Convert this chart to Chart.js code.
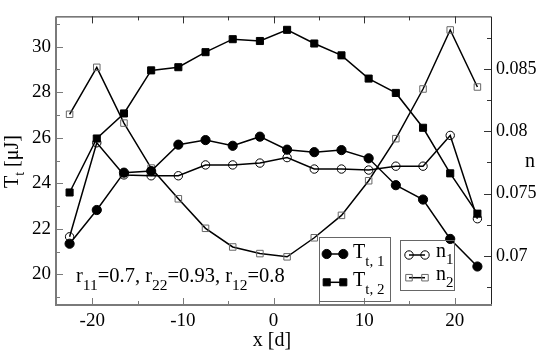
<!DOCTYPE html>
<html>
<head>
<meta charset="utf-8">
<script src="https://cdn.jsdelivr.net/npm/chart.js@4/dist/chart.umd.min.js"></script>
<style>
  html, body { margin: 0; padding: 0; background: #fff; }
  #wrap { width: 545px; height: 351px; }
</style>
</head>
<body>
<div id="wrap"><canvas id="chart" width="545" height="351"></canvas></div>
<script>
// days relative to the centre
const xDays = [-22.5, -19.5, -16.5, -13.5, -10.5, -7.5, -4.5, -1.5, 1.5, 4.5, 7.5, 10.5, 13.5, 16.5, 19.5, 22.5];
// left axis, T_t [µJ]
const tt1 = [21.35, 22.83, 24.47, 24.54, 25.70, 25.90, 25.65, 26.05, 25.48, 25.37, 25.46, 25.10, 23.92, 23.29, 21.56, 20.35];
const tt2 = [23.60, 25.97, 27.07, 28.96, 29.10, 29.76, 30.33, 30.25, 30.74, 30.14, 29.62, 28.60, 27.97, 26.44, 24.44, 22.67];
// right axis, n
const n1 = [0.07153, 0.07908, 0.0765, 0.07643, 0.07643, 0.0773, 0.0773, 0.07745, 0.07789, 0.07697, 0.07697, 0.07689, 0.0772, 0.0772, 0.07967, 0.07298];
const n2 = [0.08137, 0.08514, 0.08066, 0.07705, 0.07458, 0.07221, 0.07071, 0.07018, 0.06992, 0.07145, 0.07325, 0.07603, 0.07941, 0.0834, 0.08814, 0.08356];

const xTicks = [-20, -10, 0, 10, 20];
const xMinor = [-15, -5, 5, 15];
const yTicks = [20, 22, 24, 26, 28, 30];
const yMinor = [19, 21, 23, 25, 27, 29, 31];
const y2Ticks = [0.07, 0.075, 0.08, 0.085];
const y2Minor = [0.0675, 0.0725, 0.0775, 0.0825, 0.0875];

const FONT = 'Liberation Serif';
Chart.defaults.font.family = FONT;
const pts = arr => arr.map((v, i) => ({ x: xDays[i], y: v }));

// text with subscripts: [['r'], ['11', true], ['=0.7']]
function richText(ctx, parts, x, y, size, subSize, drop) {
    let cx = x;
    parts.forEach(([t, sub]) => {
        ctx.font = (sub ? subSize : size) + 'px ' + FONT;
        ctx.fillText(t, cx, sub ? y + drop : y);
        cx += ctx.measureText(t).width;
    });
}

function marker(ctx, style, x, y, r, fill, stroke) {
    ctx.beginPath();
    if (style === 'circle') {
        ctx.arc(x, y, r, 0, Math.PI * 2);
    } else {
        const s = r * Math.SQRT1_2;
        ctx.rect(x - s, y - s, 2 * s, 2 * s);
    }
    if (fill) { ctx.fillStyle = fill; ctx.fill(); }
    ctx.strokeStyle = stroke; ctx.lineWidth = 1; ctx.stroke();
}

const decor = {
    id: 'decor',
    afterDraw(chart) {
        const { ctx, chartArea: a, scales } = chart;
        const sx = scales.x, sy = scales.y, sy2 = scales.y2;
        ctx.save();

        // frame: left/bottom grey and thick, top/right dark and thin
        ctx.strokeStyle = '#222'; ctx.lineWidth = 1;
        ctx.beginPath();
        ctx.moveTo(a.left, a.top + 0.5); ctx.lineTo(a.right + 0.5, a.top + 0.5);
        ctx.lineTo(a.right + 0.5, a.bottom);
        ctx.stroke();
        ctx.strokeStyle = '#7a7a7a'; ctx.lineWidth = 2;
        ctx.beginPath();
        ctx.moveTo(a.left, a.top); ctx.lineTo(a.left, a.bottom); ctx.lineTo(a.right + 1, a.bottom);
        ctx.stroke();

        // inward ticks
        const tick = (color, fn) => { ctx.strokeStyle = color; ctx.lineWidth = 1; ctx.beginPath(); fn(); ctx.stroke(); };
        tick('#7a7a7a', () => {
            xTicks.forEach(v => { const p = Math.round(sx.getPixelForValue(v)) + 0.5; ctx.moveTo(p, a.bottom); ctx.lineTo(p, a.bottom - 7); });
            xMinor.forEach(v => { const p = Math.round(sx.getPixelForValue(v)) + 0.5; ctx.moveTo(p, a.bottom); ctx.lineTo(p, a.bottom - 4); });
            yTicks.forEach(v => { const p = Math.round(sy.getPixelForValue(v)) + 0.5; ctx.moveTo(a.left, p); ctx.lineTo(a.left + 7, p); });
            yMinor.forEach(v => { const p = Math.round(sy.getPixelForValue(v)) + 0.5; ctx.moveTo(a.left, p); ctx.lineTo(a.left + 4, p); });
        });
        tick('#333', () => {
            xTicks.forEach(v => { const p = Math.round(sx.getPixelForValue(v)) + 0.5; ctx.moveTo(p, a.top); ctx.lineTo(p, a.top + 7); });
            xMinor.forEach(v => { const p = Math.round(sx.getPixelForValue(v)) + 0.5; ctx.moveTo(p, a.top); ctx.lineTo(p, a.top + 4); });
            y2Ticks.forEach(v => { const p = Math.round(sy2.getPixelForValue(v)) + 0.5; ctx.moveTo(a.right, p); ctx.lineTo(a.right - 7, p); });
            y2Minor.forEach(v => { const p = Math.round(sy2.getPixelForValue(v)) + 0.5; ctx.moveTo(a.right, p); ctx.lineTo(a.right - 4, p); });
        });

        ctx.fillStyle = '#000';
        ctx.textBaseline = 'alphabetic';

        // axis titles
        ctx.textAlign = 'center';
        ctx.font = '20px ' + FONT;
        ctx.fillText('x [d]', 272, 346);
        ctx.textAlign = 'left';
        ctx.fillText('n', 525, 167);
        ctx.save();
        ctx.translate(18, 188);
        ctx.rotate(-Math.PI / 2);
        richText(ctx, [['T'], ['t', true], [' [μJ]']], 0, 0, 20, 14, 6);
        ctx.restore();

        // parameter note
        richText(ctx, [['r'], ['11', true], ['=0.7, r'], ['22', true], ['=0.93, r'], ['12', true], ['=0.8']], 76, 282, 20.5, 15.5, 8);

        // legend boxes
        ctx.strokeStyle = '#666'; ctx.lineWidth = 1;
        ctx.strokeRect(319.5, 237.5, 71, 64);
        ctx.strokeRect(400.5, 240.5, 54, 50);
        const ds = chart.data.datasets;
        const rows = [
            [ds[0], 326.7, 343.3, 254, 353, 257.5, [['T'], ['t, 1', true]], 8],
            [ds[1], 326.7, 343.3, 282.3, 353, 285.5, [['T'], ['t, 2', true]], 8],
            [ds[2], 409, 425, 255, 436, 257, [['n'], ['1', true]], 6.5],
            [ds[3], 409, 425, 277.7, 436, 280, [['n'], ['2', true]], 7],
        ];
        rows.forEach(([d, x1, x2, y, tx, ty, label, drop]) => {
            ctx.strokeStyle = '#000'; ctx.lineWidth = 1.5;
            ctx.beginPath(); ctx.moveTo(x1, y); ctx.lineTo(x2, y); ctx.stroke();
            [x1, x2].forEach(x => marker(ctx, d.pointStyle, x, y, d.pointRadius,
                d.pointBackgroundColor === 'rgba(0,0,0,0)' ? null : d.pointBackgroundColor, d.pointBorderColor));
            ctx.fillStyle = '#000';
            richText(ctx, label, tx, ty, 20, 15, drop);
        });
        ctx.restore();
    }
};

const lineSet = (label, data, axis, style, radius, fill, stroke) => ({
    label, data: pts(data), yAxisID: axis,
    showLine: true, borderColor: '#000', borderWidth: 1.5, tension: 0,
    pointStyle: style, pointRadius: radius, pointBorderWidth: 1,
    pointBackgroundColor: fill, pointBorderColor: stroke,
});

new Chart(document.getElementById('chart'), {
    type: 'scatter',
    data: {
        datasets: [
            lineSet('T_t,1', tt1, 'y', 'circle', 4.6, '#000', '#000'),
            lineSet('T_t,2', tt2, 'y', 'rect', 5, '#000', '#000'),
            lineSet('n_1', n1, 'y2', 'circle', 4.2, 'rgba(0,0,0,0)', '#000'),
            lineSet('n_2', n2, 'y2', 'rect', 4.6, 'rgba(0,0,0,0)', '#666'),
        ],
    },
    options: {
        responsive: false,
        animation: false,
        devicePixelRatio: 1,
        layout: { padding: { top: 2, left: 0, right: 0, bottom: 0 } },
        plugins: { legend: { display: false }, tooltip: { enabled: false } },
        scales: {
            x: {
                type: 'linear', min: -24, max: 24,
                grid: { display: false, drawTicks: false }, border: { display: false },
                afterBuildTicks: s => { s.ticks = xTicks.map(v => ({ value: v })); },
                afterFit: s => { s.height = 46; },
                ticks: { color: '#000', padding: 5, font: { family: FONT, size: 19 }, maxRotation: 0 },
            },
            y: {
                position: 'left', min: 18.66, max: 31.33,
                grid: { display: false, drawTicks: false }, border: { display: false },
                afterBuildTicks: s => { s.ticks = yTicks.map(v => ({ value: v })); },
                afterFit: s => { s.width = 56; },
                ticks: { color: '#000', padding: 5, font: { family: FONT, size: 19 } },
            },
            y2: {
                position: 'right', min: 0.06605, max: 0.08923,
                grid: { display: false, drawTicks: false }, border: { display: false },
                afterBuildTicks: s => { s.ticks = y2Ticks.map(v => ({ value: v })); },
                afterFit: s => { s.width = 54; },
                ticks: { color: '#000', padding: 5, font: { family: FONT, size: 18 }, callback: v => String(v) },
            },
        },
    },
    plugins: [decor],
});
</script>
</body>
</html>
